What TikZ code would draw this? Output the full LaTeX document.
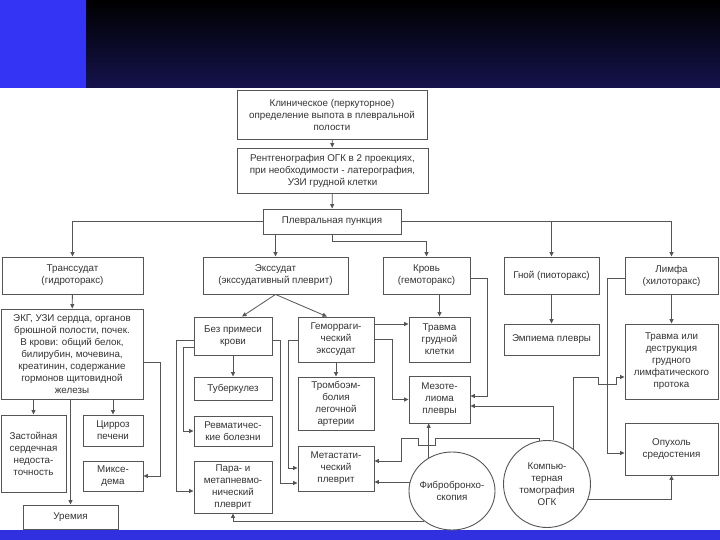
\documentclass[tikz,border=0pt]{standalone}
\usepackage{fontspec}
\setmainfont{Liberation Sans}
\usetikzlibrary{arrows.meta,shapes.geometric}
\definecolor{puline}{HTML}{555555}
\definecolor{putext}{HTML}{333333}
\definecolor{puhead}{HTML}{15134C}
\definecolor{publue}{HTML}{3434F4}
\tikzset{
  pu sheet/.style={
    x=1pt,
    y=-1pt,
    line join=miter
  },
  pu box/.style={
    draw=puline,
    line width=0.9pt,
    fill=white,
    text=putext,
    font=\fontsize{9.8}{12}\selectfont,
    align=center,
    inner sep=1pt
  },
  pu oval/.style={
    pu box,
    ellipse,
    inner sep=0pt
  },
  pu link/.style={
    draw=puline,
    line width=0.8pt,
    -{Triangle[length=4.5pt,width=4pt]}
  }
}

\begin{document}
\begin{tikzpicture}[pu sheet]
  \useasboundingbox (0,0) rectangle (720,540);
  \fill[white] (0,0) rectangle (720,540);
  \shade[top color=black,bottom color=puhead] (0,0) rectangle (720,88);
  \fill[publue] (0,0) rectangle (86,88);
  \fill[publue!92!black] (0,530) rectangle (720,540);

  \node[pu box,minimum width=190,minimum height=49] (klin) at (332,114.5)
    {Клиническое (перкуторное)\\определение выпота в плевральной\\полости};
  \node[pu box,minimum width=191,minimum height=45] (rent) at (332.5,170.5)
    {Рентгенография ОГК в 2 проекциях,\\при необходимости - латерография,\\УЗИ грудной клетки};
  \node[pu box,minimum width=138,minimum height=25] (punk) at (332,221.5)
    {Плевральная пункция};

  \node[pu box,minimum width=141,minimum height=37] (trans) at (72.5,275.5)
    {Транссудат\\(гидроторакс)};
  \node[pu box,minimum width=145,minimum height=37] (exsud) at (275.5,275.5)
    {Экссудат\\(экссудативный плеврит)};
  \node[pu box,minimum width=87,minimum height=37] (krov) at (426.5,275.5)
    {Кровь\\(гемоторакс)};
  \node[pu box,minimum width=95,minimum height=37] (gnoi) at (551.5,275.5)
    {Гной (пиоторакс)};
  \node[pu box,minimum width=93,minimum height=37] (limfa) at (671.5,275.5)
    {Лимфа\\(хилоторакс)};

  \node[pu box,minimum width=142,minimum height=90] (ekg) at (72,354)
    {ЭКГ, УЗИ сердца, органов\\брюшной полости, почек.\\В крови: общий белок,\\билирубин, мочевина,\\креатинин, содержание\\гормонов щитовидной\\железы};
  \node[pu box,minimum width=65,minimum height=77] (zastoi) at (33.5,453.5)
    {Застойная\\сердечная\\недоста-\\точность};
  \node[pu box,minimum width=60,minimum height=31] (cirr) at (113,430.5)
    {Цирроз\\печени};
  \node[pu box,minimum width=60,minimum height=30] (miks) at (113,476)
    {Миксе-\\дема};
  \node[pu box,minimum width=95,minimum height=24] (urem) at (70.5,517)
    {Уремия};

  \node[pu box,minimum width=78,minimum height=38] (bez) at (233,336)
    {Без примеси\\крови};
  \node[pu box,minimum width=76,minimum height=45] (gemor) at (336,339.5)
    {Геморраги-\\ческий\\экссудат};
  \node[pu box,minimum width=78,minimum height=23] (tuber) at (233,388.5)
    {Туберкулез};
  \node[pu box,minimum width=78,minimum height=30] (revm) at (233,431)
    {Ревматичес-\\кие болезни};
  \node[pu box,minimum width=78,minimum height=52] (para) at (233,487)
    {Пара- и\\метапневмо-\\нический\\плеврит};
  \node[pu box,minimum width=76,minimum height=53] (tromb) at (336,403.5)
    {Тромбоэм-\\болия\\легочной\\артерии};
  \node[pu box,minimum width=76,minimum height=45] (metas) at (336,468.5)
    {Метастати-\\ческий\\плеврит};

  \node[pu box,minimum width=61,minimum height=45] (travma) at (439.5,339.5)
    {Травма\\грудной\\клетки};
  \node[pu box,minimum width=61,minimum height=47] (mezo) at (439.5,399.5)
    {Мезоте-\\лиома\\плевры};
  \node[pu box,minimum width=95,minimum height=31] (empi) at (551.5,339.5)
    {Эмпиема плевры};
  \node[pu box,minimum width=93,minimum height=75] (protok) at (671.5,361.5)
    {Травма или\\деструкция\\грудного\\лимфатического\\протока};
  \node[pu box,minimum width=93,minimum height=52] (opux) at (671.5,449)
    {Опухоль\\средостения};

  \node[pu oval,inner xsep=-4pt,minimum width=86,minimum height=78] (fibro) at (452,491)
    {Фибробронхо-\\скопия};
  \node[pu oval,minimum width=87,minimum height=87] (kt) at (547,484)
    {Компью-\\терная\\томография\\ОГК};

  \draw[pu link] (klin) -- (rent);
  \draw[pu link] (rent) -- (punk);
  \draw[pu link] (punk.west) -| (trans.north);
  \draw[pu link] (punk.south -| exsud.north) -- (exsud.north);
  \draw[pu link] (punk.south) -- ++(0,7) -| (krov.north);
  \draw[pu link] (punk.east) -| (limfa.north);
  \draw[pu link] (punk.east -| gnoi.north) -- (gnoi.north);

  \draw[pu link] (trans) -- (ekg);
  \draw[pu link] (ekg.south -| zastoi.north) -- (zastoi.north);
  \draw[pu link] (ekg.south -| cirr.north) -- (cirr.north);
  \draw[pu link] (ekg.south -| urem.north) -- (urem.north);
  \draw[pu link] (ekg.east |- 0,362) -- ++(17,0) |- (miks.east);

  \draw[pu link] (exsud.south) -- ([xshift=9pt]bez.north);
  \draw[pu link] (exsud.south) -- ([xshift=-9pt]gemor.north);
  \draw[pu link] (bez.south) -- (tuber.north);
  \draw[pu link] (bez.west |- 0,340) -- ++(-17,0) |- (para.west |- 0,491);
  \draw[pu link] (bez.west |- 0,347) -- ++(-10,0) |- (revm.west);
  \draw[pu link] (bez.east |- 0,340) -- ++(8,0) |- (metas.west |- 0,483);
  \draw[pu link] (gemor.west |- 0,340) -- ++(-9,0) |- (metas.west |- 0,468);
  \draw[pu link] (gemor.south) -- (tromb.north);
  \draw[pu link] (gemor.east |- 0,324) -- (travma.west |- 0,324);
  \draw[pu link] (gemor.east |- 0,339) -- ++(18,0) |- (mezo.west);

  \draw[pu link] (krov.south -| travma.north) -- (travma.north);
  \draw[pu link] (krov.east |- 0,278) -- ++(17,0) |- (mezo.east |- 0,396);
  \draw[pu link] (gnoi) -- (empi);
  \draw[pu link] (limfa) -- (protok);
  \draw[pu link] (limfa.west |- 0,278) -- ++(-17,0) |- (opux.west |- 0,453);

  \draw[pu link] (fibro.125) -- (fibro.125 |- mezo.south);
  \draw[pu link] (fibro.168) -- (fibro.168 -| metas.east);
  \draw[pu link] (fibro.227) -| (para.south);

  \draw[pu link] (kt.100) -- (kt.100 |- 0,438) -- (435,438) -- (435,445)
    -- (418,445) -- (418,438) -- (401,438) |- (metas.east |- 0,461);
  \draw[pu link] (kt.82) |- (mezo.east |- 0,406);
  \draw[pu link] (kt.53) -- (kt.53 |- 0,377) -- (598,377) -- (598,384)
    -- (616,384) -- (616,377) -- (protok.west |- 0,377);
  \draw[pu link] (kt.-20) -| (opux.south);
\end{tikzpicture}
\end{document}
